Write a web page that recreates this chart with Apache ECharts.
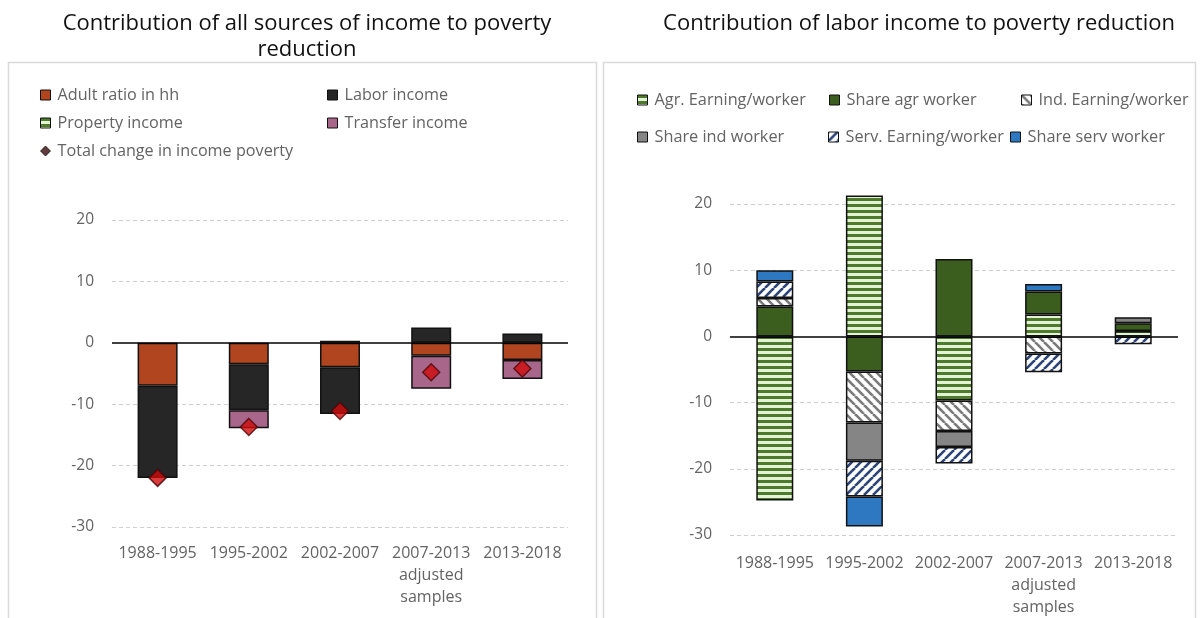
<!DOCTYPE html>
<html><head><meta charset="utf-8">
<script src="https://cdn.jsdelivr.net/npm/echarts@6/dist/echarts.min.js"></script>
<style>html,body{margin:0;padding:0;background:#fff}#c{width:1200px;height:618px}</style>
</head><body><div id="c"></div>
<script>
// ---- data ----
const categories = ['1988-1995', '1995-2002', '2002-2007', '2007-2013\nadjusted\nsamples', '2013-2018'];
const yTickLabels = [-30, -20, -10, 0, 10, 20];

// Left: contribution of all sources of income
const adultRatio   = [-7.0, -3.5, -4.0, -2.1, -2.8];
const laborIncome  = [-15.0, -7.5, -7.6, 2.5, 1.5];
const propertyInc  = [null, null, 0.35, null, null];
const transferInc  = [null, -2.9, null, -5.4, -3.1];
const totalChange  = [-22.0, -13.7, -11.1, -4.8, -4.2];

// Right: contribution of labor income
const agrEarning   = [-24.8, 21.3, -9.7, 3.3, 0.8];
const shareAgr     = [4.5, -5.3, 11.7, 3.5, 1.2];
const indEarning   = [1.3, -7.7, -4.6, -2.6, null];
const shareInd     = [null, -5.8, -2.4, null, 0.9];
const servEarning  = [2.5, -5.4, -2.5, -2.8, -1.2];
const shareServ    = [1.7, -4.5, null, 1.1, null];

// ---- patterns ----
function hStripe(bg, fg, period, thick) {
  const c = document.createElement('canvas'); c.width = 8; c.height = period;
  const g = c.getContext('2d'); g.fillStyle = bg; g.fillRect(0, 0, 8, period);
  g.fillStyle = fg; g.fillRect(0, 0, 8, thick);
  return { image: c, repeat: 'repeat' };
}
function diag(bg, fg, s, w, dir) {
  const c = document.createElement('canvas'); c.width = s; c.height = s;
  const g = c.getContext('2d'); g.fillStyle = bg; g.fillRect(0, 0, s, s);
  g.strokeStyle = fg; g.lineWidth = w;
  for (let k = -1; k <= 1; k++) {
    g.beginPath();
    if (dir > 0) { g.moveTo(k * s, s); g.lineTo(k * s + s, 0); }
    else { g.moveTo(k * s, 0); g.lineTo(k * s + s, s); }
    g.stroke();
  }
  return { image: c, repeat: 'repeat' };
}
const pGreenStripe = hStripe('#e4f2d6', '#4e7a2c', 6, 3);
const pGrayHatch = diag('#ffffff', '#7a7a7a', 9, 2.6, -1);
const pBlueHatch = diag('#ffffff', '#2b4478', 9, 2.6, 1);

const FONT = 'Open Sans';
const LBL = '#636363';
const border = { borderColor: '#111', borderWidth: 1.5 };

function bar(name, data, color, gi, bw) {
  return {
    name, type: 'bar', stack: 's' + gi, data, xAxisIndex: gi, yAxisIndex: gi,
    barWidth: bw, itemStyle: Object.assign({ color }, border), emphasis: { disabled: true }
  };
}
function leg(name, left, top, fs, extra) {
  return Object.assign({
    data: [name], left, top, itemWidth: 10, itemHeight: 10, icon: 'rect',
    textStyle: { color: LBL, fontSize: fs, fontFamily: FONT, padding: [0, 0, 0, 2] }, selectedMode: false,
    padding: 0,
    itemStyle: { borderColor: '#111', borderWidth: 1 }
  }, extra || {});
}
function yAxis(gi, max, nLines) {
  const cols = [];
  for (let i = 0; i < nLines; i++) cols.push(i === 3 ? 'rgba(0,0,0,0)' : '#d0d0d0');
  if (max === 30) cols[6] = 'rgba(0,0,0,0)';
  return {
    type: 'value', gridIndex: gi, min: -30, max, interval: 10,
    axisLine: { show: false }, axisTick: { show: false },
    axisLabel: { color: LBL, fontSize: 15.5, fontFamily: FONT, margin: 18,
      formatter: v => (yTickLabels.indexOf(v) >= 0 ? String(v) : '') },
    splitLine: { lineStyle: { color: cols, type: [4, 3], width: 1 } }
  };
}
function xAxis(gi, margin) {
  return {
    type: 'category', gridIndex: gi, data: categories,
    axisLine: { show: false }, axisTick: { show: false },
    axisLabel: { color: LBL, fontSize: 16, fontFamily: FONT, margin, lineHeight: 22, interval: 0 }
  };
}
const zeroLine = (gi) => ({
  type: 'line', xAxisIndex: gi, yAxisIndex: gi, data: [], silent: true,
  markLine: { silent: true, symbol: 'none', label: { show: false },
    lineStyle: { color: '#000', width: 1.6, type: 'solid' }, data: [{ yAxis: 0 }] }
});

const chart = echarts.init(document.getElementById('c'), null, { renderer: 'canvas' });
chart.setOption({
  animation: false,
  backgroundColor: '#fff',
  graphic: [
    { type: 'rect', shape: { x: 8.5, y: 62.5, width: 588, height: 570 }, style: { fill: 'none', stroke: '#d9d9d9', lineWidth: 1.5 } },
    { type: 'rect', shape: { x: 603.5, y: 62.5, width: 592, height: 570 }, style: { fill: 'none', stroke: '#d9d9d9', lineWidth: 1.5 } }
  ],
  title: [
    { text: 'Contribution of all sources of income to poverty\nreduction', left: 302, top: 6, textAlign: 'center',
      textStyle: { fontFamily: FONT, fontSize: 22, fontWeight: 'normal', color: '#111', lineHeight: 26 } },
    { text: 'Contribution of labor income to poverty reduction', left: 914, top: 6, textAlign: 'center',
      textStyle: { fontFamily: FONT, fontSize: 22, fontWeight: 'normal', color: '#111', lineHeight: 26 } }
  ],
  legend: [
    leg('Adult ratio in hh', 40, 87, 16.2),
    leg('Labor income', 327, 87, 16.2),
    leg('Property income', 40, 115, 16.2),
    leg('Transfer income', 327, 115, 16.2),
    leg('Total change in income poverty', 40, 143, 16.2, { icon: 'diamond', itemStyle: { color: '#3a0a0a', borderColor: '#111', borderWidth: 1 } }),
    leg('Agr. Earning/worker', 637, 92, 16.3),
    leg('Share agr worker', 829, 92, 16.3),
    leg('Ind. Earning/worker', 1021, 92, 16.3),
    leg('Share ind worker', 637, 129, 16.3),
    leg('Serv. Earning/worker', 828, 129, 16.3),
    leg('Share serv worker', 1010, 129, 16.3)
  ],
  grid: [
    { left: 112, right: 632, top: 220, bottom: 91 },
    { left: 730, right: 22, top: 137.8, bottom: 83 }
  ],
  xAxis: [xAxis(0, 15), xAxis(1, 17)],
  yAxis: [yAxis(0, 20, 6), yAxis(1, 30, 7)],
  series: [
    bar('Adult ratio in hh', adultRatio, '#b0451f', 0, 40),
    bar('Labor income', laborIncome, '#262626', 0, 40),
    bar('Property income', propertyInc, pGreenStripe, 0, 40),
    bar('Transfer income', transferInc, '#a8678a', 0, 40),
    { name: 'Total change in income poverty', type: 'scatter', xAxisIndex: 0, yAxisIndex: 0, data: totalChange,
      symbol: 'diamond', symbolSize: 17, z: 5, itemStyle: { color: '#d10b0b', borderColor: '#4a0808', borderWidth: 1.5 } },
    zeroLine(0),
    bar('Agr. Earning/worker', agrEarning, pGreenStripe, 1, 37),
    bar('Share agr worker', shareAgr, '#3b5e1f', 1, 37),
    bar('Ind. Earning/worker', indEarning, pGrayHatch, 1, 37),
    bar('Share ind worker', shareInd, '#858585', 1, 37),
    bar('Serv. Earning/worker', servEarning, pBlueHatch, 1, 37),
    bar('Share serv worker', shareServ, '#2e78c2', 1, 37),
    zeroLine(1)
  ]
});
</script></body></html>
